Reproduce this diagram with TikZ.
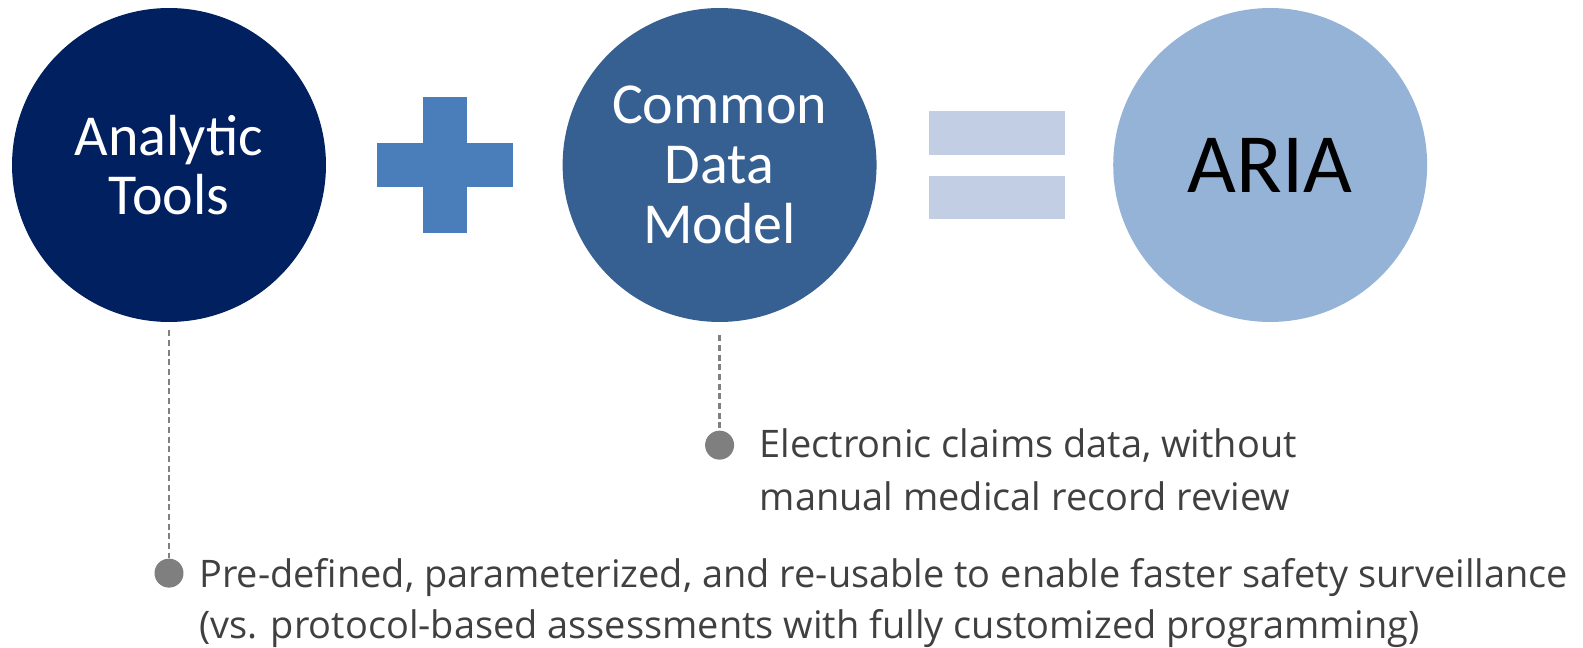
\documentclass[tikz,border=0pt]{standalone}
\usepackage{fontspec}
\setmainfont{Carlito}
\newfontfamily\notefont{Open Sans}
\usetikzlibrary{positioning}
\definecolor{navy}{HTML}{002060}
\definecolor{steel}{HTML}{376092}
\definecolor{sky}{HTML}{95B3D7}
\definecolor{plusblue}{HTML}{4A7EBB}
\definecolor{eqblue}{HTML}{C2CEE3}
\definecolor{dotgray}{HTML}{7F7F7F}
\definecolor{leadgray}{HTML}{808080}
\definecolor{notegray}{HTML}{404040}

\begin{document}
\begin{tikzpicture}[x=0.02cm, y=-0.02cm, node distance = 1cm,
                    bubble/.style = {circle, minimum size=6.28cm, inner sep=0pt, align=center},
                    bar/.style = {rectangle, inner sep=0pt},
                    dot/.style = {circle, fill=dotgray, minimum size=0.58cm, inner sep=0pt},
                    leader/.style = {draw=leadgray, line width=1.3pt, dash pattern=on 3.5pt off 2pt},
                    note/.style = {anchor=base west, inner sep=0pt, align=left, text=notegray,
                                   font=\notefont\fontsize{21.6}{29.8}\selectfont}]
\useasboundingbox (0,0) rectangle (1583,648);
\begin{scope}[node distance=0mm and 4.72cm]
    \node[bubble, fill=navy, text=white, font=\fontsize{33}{34}\selectfont] (tools) at (169,165) {Analytic\\Tools};
\node[bubble, fill=steel, text=white, font=\fontsize{33}{34}\selectfont, right= of tools] (cdm) {Common\\Data\\Model};
\node[bubble, fill=sky, text=black, font=\fontsize{48}{48}\selectfont, right= of cdm] (aria) {ARIA};
\node[bar, fill=plusblue, minimum width=2.72cm, minimum height=0.88cm] (plush) at (445,165) {};
\node[bar, fill=plusblue, minimum width=0.88cm, minimum height=2.72cm] (plusv) at (445,165) {};
\node[bar, fill=eqblue, minimum width=2.72cm, minimum height=0.88cm] (eqtop) at (997,133) {};
\node[bar, fill=eqblue, minimum width=2.72cm, minimum height=0.86cm] (eqbot) at (997,197.5) {};
\node[dot, below=4.72cm of tools] (d1) {};
\node[dot, below=2.16cm of cdm] (d2) {};
\node[right=0.3cm of d1, note, yshift=-1.3cm, font=\notefont\fontsize{21.6}{28.6}\selectfont] (n1) {Pre-defined, parameterized, and re-usable to enable faster safety surveillance\\(vs. protocol-based assessments with fully customized programming)};
\node[right=0.5cm of d2, note, yshift=-1.3cm] (n2) {Electronic claims data, without\\manual medical record review};
    \path[leader]
(tools) edge[shorten <=0.16cm] (d1)
(cdm) edge[shorten <=0.26cm] (d2);\end{scope}  \end{tikzpicture}
\end{document}
